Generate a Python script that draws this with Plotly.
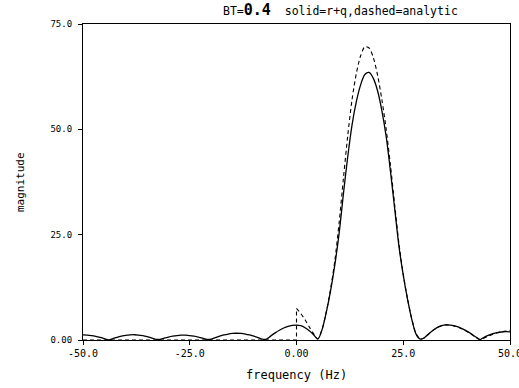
import plotly.graph_objects as go

# frequency grid (Hz) and magnitudes
freq = list(range(-50, 51))
solid_rq = [
    1.20, 1.16, 1.04, 0.85, 0.60, 0.31, 0.02, 0.34, 0.65, 0.91,
    1.11, 1.22, 1.25, 1.18, 1.02, 0.79, 0.50, 0.17, 0.15, 0.44,
    0.70, 0.91, 1.06, 1.14, 1.14, 1.06, 0.91, 0.70, 0.44, 0.15,
    0.19, 0.57, 0.91, 1.20, 1.42, 1.55, 1.60, 1.55, 1.42, 1.20,
    0.91, 0.57, 0.19, 0.23, 0.98, 1.69, 2.32, 2.84, 3.23, 3.47,
    3.55, 3.39, 2.92, 2.19, 1.26, 0.20, 2.5, 6.7, 11.8, 18.0,
    25.5, 34.8, 43.5, 51.0, 56.5, 60.5, 63.0, 63.5, 62.1, 59.1,
    54.4, 48.3, 40.1, 31.1, 22.2, 15.4, 9.7, 4.9, 1.4, 0.2,
    0.58, 1.51, 2.33, 2.98, 3.41, 3.60, 3.55, 3.37, 3.04, 2.60,
    2.05, 1.41, 0.72, 0.10, 0.70, 1.15, 1.50, 1.75, 1.90, 1.97,
    1.95,
]

# analytic: zero for negative frequencies, jump at 0
neg_freq = [-50, 0, 0]
neg_analytic = [0.0, 0.0, 7.5]
pos_freq = list(range(0, 51))
pos_analytic = [
    7.5, 6.3, 4.8, 3.1, 1.5, 0.3, 2.6, 6.8, 12.2, 19.0,
    28.0, 38.5, 48.5, 57.0, 63.2, 67.4, 69.6, 69.3, 67.0, 62.8,
    57.0, 50.0, 41.5, 32.0, 22.8, 15.6, 9.8, 5.0, 1.5, 0.2,
    0.5, 1.45, 2.3, 2.95, 3.4, 3.58, 3.5, 3.3, 2.95, 2.5,
    1.95, 1.3, 0.65, 0.1, 0.5, 0.95, 1.35, 1.7, 1.95, 2.15,
    2.3,
]

x_tickvals = [-50, -25, 0, 25, 50]
x_ticktext = ["-50.0", "-25.0", "0.00", "25.0", "50.0"]
y_tickvals = [0, 25, 50, 75]
y_ticktext = ["0.00", "25.0", "50.0", "75.0"]

FONT = "DejaVu Sans Mono"

fig = go.Figure()
fig.add_trace(go.Scatter(x=freq, y=solid_rq, mode="lines",
                         line=dict(color="black", width=1.3, shape="spline", smoothing=0.8),
                         showlegend=False, hoverinfo="skip"))
fig.add_trace(go.Scatter(x=neg_freq, y=neg_analytic, mode="lines",
                         line=dict(color="black", width=1.1, dash="4px,3px"),
                         showlegend=False, hoverinfo="skip"))
fig.add_trace(go.Scatter(x=pos_freq, y=pos_analytic, mode="lines",
                         line=dict(color="black", width=1.1, dash="4px,3px",
                                   shape="spline", smoothing=0.8),
                         showlegend=False, hoverinfo="skip"))

fig.update_layout(
    width=519, height=388,
    margin=dict(l=83, r=9, t=24, b=48, autoexpand=False),
    paper_bgcolor="white", plot_bgcolor="white",
    font=dict(family=FONT, color="black", size=10),
    xaxis=dict(range=[-50, 50], tickvals=x_tickvals, ticktext=x_ticktext,
               showgrid=False, zeroline=False, showline=True, linecolor="black",
               linewidth=1.2, mirror=True, ticks="outside", ticklen=4,
               tickcolor="black", tickfont=dict(size=10, family=FONT),
               ticklabeloverflow="allow", automargin=False),
    yaxis=dict(range=[0, 75], tickvals=y_tickvals, ticktext=y_ticktext,
               showgrid=False, zeroline=False, showline=True, linecolor="black",
               linewidth=1.2, mirror=True, ticks="outside", ticklen=4,
               tickcolor="black", tickfont=dict(size=9, family=FONT),
               ticklabelstandoff=4, automargin=False),
    annotations=[
        dict(text="BT=<b><span style='font-size:15px'>0.4</span></b>  solid=r+q,dashed=analytic",
             x=0.604, y=1.044, xref="paper", yref="paper", showarrow=False,
             xanchor="center", yanchor="middle", font=dict(family=FONT, size=11.5)),
        dict(text="frequency (Hz)", x=0.5, y=-0.111, xref="paper", yref="paper",
             showarrow=False, xanchor="center", yanchor="middle",
             font=dict(family=FONT, size=12)),
        dict(text="magnitude", x=-0.1475, y=0.5, xref="paper", yref="paper",
             showarrow=False, xanchor="center", yanchor="middle", textangle=-90,
             font=dict(family=FONT, size=11)),
    ],
)

fig.write_html("out.html")
